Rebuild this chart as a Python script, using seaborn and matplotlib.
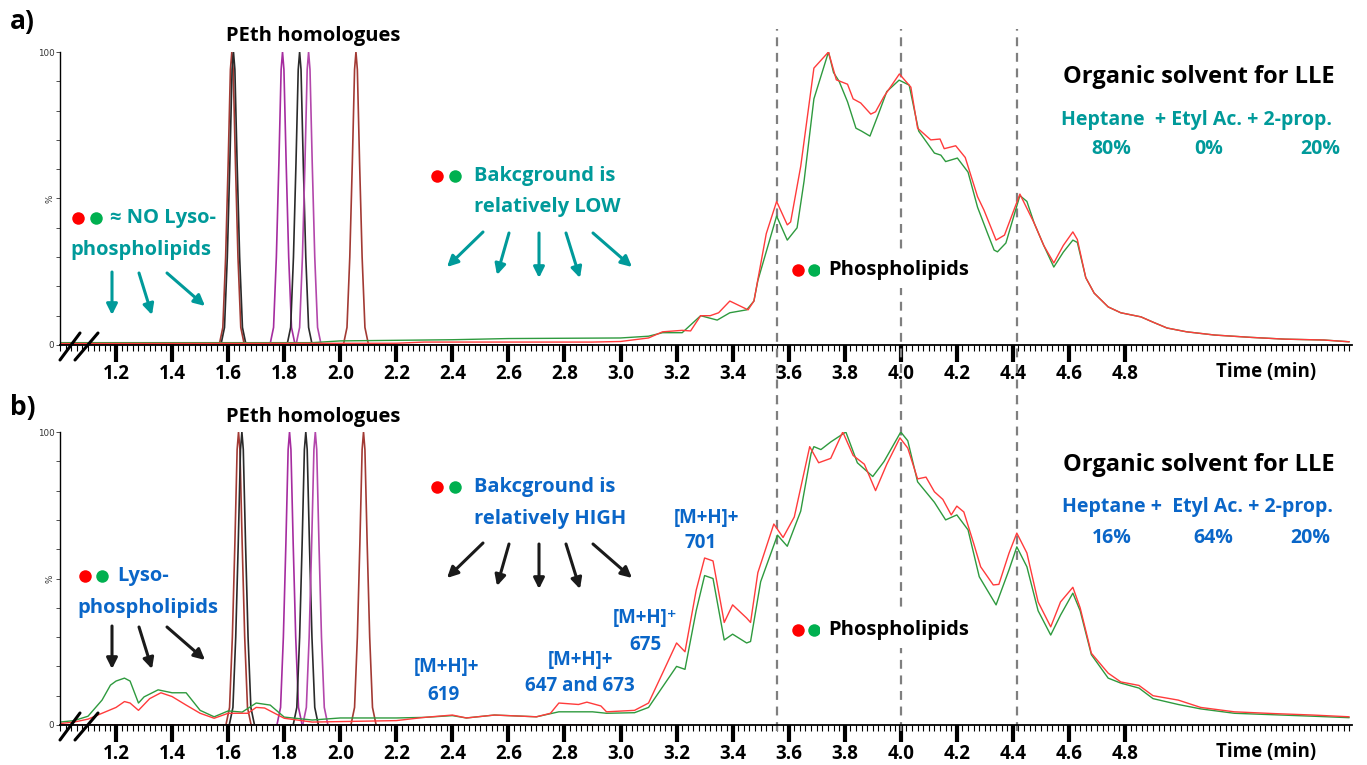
import matplotlib
matplotlib.use("Agg")
import matplotlib.pyplot as plt
import seaborn as sns
import pandas as pd
from matplotlib.lines import Line2D
from matplotlib.patches import FancyArrowPatch
from matplotlib.ticker import FixedLocator, MultipleLocator

# ---------------- data ----------------
a_green_t = [1.00, 1.90, 2.00, 2.20, 2.40, 2.60, 3.00, 3.10, 3.15, 3.22, 3.286, 3.345, 3.39, 3.45, 3.476,
             3.49, 3.557, 3.595, 3.63, 3.655, 3.69, 3.742, 3.76, 3.78, 3.81, 3.84, 3.86, 3.89, 3.917, 3.95,
             3.994, 4.03, 4.064, 4.12, 4.143, 4.16, 4.202, 4.24, 4.274, 4.31, 4.333, 4.345, 4.375, 4.425,
             4.45, 4.476, 4.51, 4.546, 4.58, 4.614, 4.63, 4.66, 4.69, 4.74, 4.785, 4.857, 4.90, 4.95, 5.02,
             5.12, 5.25, 5.37, 5.51, 5.60]
a_green_y = [0.8, 0.8, 1.4, 1.6, 1.8, 2.2, 2.4, 3.0, 4.2, 4.2, 10.0, 8.5, 11.0, 12.0, 15.0,
             22.0, 44.0, 35.8, 40.0, 56.0, 84.0, 100.0, 93.0, 90.0, 83.0, 74.0, 73.0, 71.3, 78.0, 86.5,
             90.4, 88.7, 73.0, 65.5, 64.8, 62.6, 63.8, 59.0, 47.0, 38.0, 32.4, 31.8, 34.8, 51.0,
             49.0, 41.6, 34.0, 26.6, 31.7, 35.8, 35.0, 23.0, 17.7, 13.0, 11.0, 9.6, 7.8, 5.8, 4.5,
             3.4, 2.6, 2.0, 1.7, 1.1]

a_red_t = [1.00, 2.20, 2.30, 2.60, 2.90, 3.00, 3.10, 3.15, 3.22, 3.25, 3.286, 3.32, 3.35, 3.39, 3.455,
           3.476, 3.52, 3.557, 3.595, 3.607, 3.643, 3.69, 3.742, 3.77, 3.81, 3.83, 3.857, 3.893, 3.91,
           3.94, 3.995, 4.036, 4.06, 4.107, 4.14, 4.155, 4.196, 4.23, 4.274, 4.297, 4.34, 4.37, 4.425,
           4.476, 4.51, 4.546, 4.58, 4.614, 4.63, 4.66, 4.69, 4.74, 4.785, 4.857, 4.90, 4.95, 5.02,
           5.12, 5.25, 5.37, 5.51, 5.60]
a_red_y = [0.5, 0.6, 1.0, 1.0, 1.0, 1.2, 2.4, 4.5, 5.0, 4.8, 10.0, 10.0, 11.0, 15.0, 12.0,
           15.0, 38.0, 49.0, 41.0, 42.0, 61.0, 94.5, 100.0, 90.5, 89.0, 84.0, 82.6, 78.8, 79.6,
           84.8, 92.5, 88.0, 74.0, 70.0, 70.3, 67.0, 68.0, 64.0, 50.6, 46.0, 35.8, 37.5, 51.5,
           41.6, 34.0, 28.0, 34.0, 38.6, 36.0, 23.0, 17.7, 13.0, 11.0, 9.6, 7.8, 5.8, 4.5,
           3.4, 2.6, 2.0, 1.7, 1.1]

b_green_t = [1.00, 1.05, 1.10, 1.15, 1.18, 1.20, 1.23, 1.25, 1.28, 1.30, 1.35, 1.40, 1.45, 1.50, 1.55,
             1.60, 1.65, 1.70, 1.75, 1.80, 1.90, 2.00, 2.20, 2.30, 2.40, 2.45, 2.55, 2.70, 2.78, 2.90,
             2.95, 3.05, 3.10, 3.15, 3.20, 3.23, 3.27, 3.30, 3.33, 3.37, 3.40, 3.45, 3.464, 3.50, 3.56,
             3.595, 3.643, 3.68, 3.69, 3.715, 3.75, 3.804, 3.845, 3.90, 3.94, 4.00, 4.025, 4.06, 4.12,
             4.16, 4.20, 4.24, 4.28, 4.34, 4.386, 4.414, 4.45, 4.49, 4.535, 4.57, 4.614, 4.64, 4.68,
             4.74, 4.785, 4.85, 4.90, 4.99, 5.07, 5.19, 5.47, 5.60]
b_green_y = [1.0, 1.5, 3.0, 8.5, 13.6, 15.0, 16.0, 15.0, 7.5, 9.6, 12.0, 11.0, 11.0, 5.0, 2.8,
             4.8, 4.4, 7.5, 6.8, 2.7, 1.7, 2.4, 2.4, 2.6, 3.2, 2.4, 3.4, 2.8, 4.5, 4.5,
             4.0, 4.2, 6.0, 13.0, 20.0, 19.0, 39.0, 51.0, 50.0, 29.0, 31.0, 28.0, 28.5, 48.9, 64.8,
             61.0, 73.0, 92.7, 95.0, 94.0, 96.6, 100.0, 89.5, 84.8, 89.9, 100.0, 97.0, 83.0, 76.0,
             70.0, 71.7, 66.6, 50.6, 41.0, 52.9, 60.8, 54.0, 39.0, 30.7, 37.5, 45.0, 39.0, 24.0,
             16.0, 14.3, 12.6, 9.0, 7.0, 5.5, 4.0, 3.0, 2.5]

b_red_t = [1.00, 1.05, 1.10, 1.15, 1.20, 1.23, 1.25, 1.28, 1.32, 1.36, 1.40, 1.45, 1.50, 1.55, 1.60,
           1.67, 1.70, 1.73, 1.80, 1.90, 2.20, 2.30, 2.40, 2.45, 2.55, 2.70, 2.75, 2.78, 2.85, 2.88,
           2.93, 2.95, 3.05, 3.10, 3.15, 3.20, 3.23, 3.27, 3.30, 3.33, 3.37, 3.40, 3.45, 3.464, 3.49,
           3.547, 3.58, 3.62, 3.643, 3.675, 3.707, 3.75, 3.793, 3.83, 3.87, 3.91, 3.95, 3.997, 4.025,
           4.06, 4.09, 4.12, 4.15, 4.18, 4.20, 4.225, 4.26, 4.285, 4.33, 4.35, 4.386, 4.414, 4.45,
           4.49, 4.535, 4.57, 4.614, 4.64, 4.68, 4.74, 4.785, 4.85, 4.90, 4.99, 5.07, 5.19, 5.33,
           5.47, 5.60]
b_red_y = [0.5, 1.0, 2.0, 4.0, 6.0, 8.0, 7.5, 5.0, 9.0, 11.0, 9.7, 6.8, 4.0, 2.3, 4.0,
           4.0, 6.0, 5.8, 2.3, 1.0, 1.5, 2.6, 3.4, 2.4, 3.4, 2.8, 4.0, 7.5, 7.0, 7.8,
           6.5, 4.5, 5.0, 7.5, 17.7, 28.0, 25.0, 46.0, 57.0, 56.0, 35.0, 41.0, 36.5, 35.0, 52.0,
           68.6, 64.0, 71.0, 81.0, 95.0, 89.5, 91.0, 100.0, 92.0, 89.0, 80.0, 89.0, 98.0, 94.5,
           84.0, 84.6, 79.6, 77.0, 71.7, 74.7, 72.7, 62.0, 54.0, 47.8, 48.0, 58.6, 65.5, 58.7,
           42.0, 33.5, 42.0, 47.0, 40.0, 24.5, 17.7, 14.7, 13.5, 10.0, 8.5, 6.0, 4.5, 3.9,
           3.4, 2.8]

# PEth homologue peaks (retention times, colours) and the peak profile
peth_a_times = [1.613, 1.619, 1.794, 1.855, 1.887, 2.056]
peth_b_times = [1.637, 1.649, 1.819, 1.877, 1.911, 2.083]
peth_colors = ["#a23a34", "#2a2a2a", "#a52c9f", "#2a2a2a", "#b347ab", "#a23a34"]
peak_offsets = [-0.045, -0.032, -0.022, -0.013, -0.005, 0.0, 0.005, 0.013, 0.022, 0.032, 0.045]
peak_shape = [0, 6, 30, 62, 94, 100, 94, 62, 30, 6, 0]
peth_span = [1.0, 2.9]

major_ticks = [1.2, 1.4, 1.6, 1.8, 2.0, 2.2, 2.4, 2.6, 2.8, 3.0, 3.2, 3.4, 3.6, 3.8, 4.0, 4.2, 4.4, 4.6, 4.8]
tick_labels = ["1.2", "1.4", "1.6", "1.8", "2.0", "2.2", "2.4", "2.6", "2.8", "3.0", "3.2", "3.4",
               "3.6", "3.8", "4.0", "4.2", "4.4", "4.6", "4.8"]
marker_times = [3.557, 4.0, 4.414]

# ---------------- styling ----------------
sns.set_theme(style="white")
plt.rcParams["font.family"] = ["Open Sans", "DejaVu Sans"]
plt.rcParams["font.weight"] = "bold"

W, H = 1367, 765
TEAL = "#009a9a"
BLUE = "#0a66c8"
RED = "#ff3b3b"
GREEN = "#2e9a3e"
DOT_RED = "#ff0000"
DOT_GREEN = "#00b050"
DARK = "#1a1a1a"

fig = plt.figure(figsize=(W / 100, H / 100), dpi=100)
fig.patch.set_facecolor("white")


def fx(x):
    return x / W


def fy(y):
    return 1 - y / H


ax_a = fig.add_axes([fx(60), fy(345), 1292 / W, 293 / H])
ax_b = fig.add_axes([fx(60), fy(725), 1292 / W, 293 / H])


def draw_panel(ax, gt, gy, rt, ry, peth_times):
    for c, col in zip(peth_times, peth_colors):
        t = [peth_span[0]] + [c + o for o in peak_offsets] + [peth_span[1]]
        y = [0] + peak_shape + [0]
        sns.lineplot(x=t, y=y, ax=ax, color=col, lw=1.2, estimator=None, sort=False, legend=False)
    sns.lineplot(data=pd.DataFrame({"t": gt, "y": gy}), x="t", y="y", ax=ax, color=GREEN, lw=1.0,
                 estimator=None, sort=False, legend=False)
    sns.lineplot(data=pd.DataFrame({"t": rt, "y": ry}), x="t", y="y", ax=ax, color=RED, lw=1.0,
                 estimator=None, sort=False, legend=False)
    ax.set_xlim(1.0, 5.61)
    ax.set_ylim(0, 100)
    ax.set_xlabel("")
    ax.set_ylabel("")
    ax.grid(False)
    ax.set_facecolor("none")
    for s in ["top", "right"]:
        ax.spines[s].set_visible(False)
    ax.spines["bottom"].set_linewidth(1.3)
    ax.spines["bottom"].set_color("black")
    ax.spines["left"].set_linewidth(1.0)
    ax.spines["left"].set_color("black")
    ax.xaxis.set_major_locator(FixedLocator(major_ticks))
    ax.set_xticklabels(tick_labels, fontsize=13.5, fontweight="bold")
    ax.xaxis.set_minor_locator(MultipleLocator(0.02))
    ax.tick_params(axis="x", which="major", direction="out", length=12, width=3, pad=2,
                   colors="black", bottom=True)
    ax.tick_params(axis="x", which="minor", direction="out", length=4, width=0.8,
                   colors="black", bottom=True)
    ax.set_yticks([0, 50, 100])
    ax.set_yticklabels(["0", "%", "100"], fontsize=6.3, color="#333333", fontweight="normal",
                       family="DejaVu Sans")
    ax.get_yticklabels()[1].set_rotation(90)
    ax.yaxis.set_minor_locator(MultipleLocator(10))
    ax.tick_params(axis="y", which="both", direction="out", length=3, width=0.6, left=True, pad=1,
                   colors="#333333")


draw_panel(ax_a, a_green_t, a_green_y, a_red_t, a_red_y, peth_a_times)
draw_panel(ax_b, b_green_t, b_green_y, b_red_t, b_red_y, peth_b_times)

for t in marker_times:
    ax_a.axvline(t, ymin=-0.2, ymax=1.08, clip_on=False, color="#7f7f7f", lw=1.6, ls=(0, (4, 3)), zorder=1)
    ax_b.axvline(t, ymin=-0.02, ymax=1.1, clip_on=False, color="#7f7f7f", lw=1.6, ls=(0, (4, 3)), zorder=1)


# ---------------- annotations ----------------
def txt(x, y, s, size=14.5, color="black", ha="center", bg=False, **kw):
    t = fig.text(fx(x), fy(y), s, fontsize=size, color=color, ha=ha, va="center",
                 fontweight="bold", **kw)
    if bg:
        t.set_bbox(dict(facecolor="white", edgecolor="none", pad=6))
    return t


def dots(x1, x2, y):
    fig.add_artist(Line2D([fx(x1)], [fy(y)], marker="o", ms=9, color=DOT_RED, mec="none",
                          transform=fig.transFigure))
    fig.add_artist(Line2D([fx(x2)], [fy(y)], marker="o", ms=9, color=DOT_GREEN, mec="none",
                          transform=fig.transFigure))


def arrow(x1, y1, x2, y2, color):
    fig.add_artist(FancyArrowPatch((fx(x1), fy(y1)), (fx(x2), fy(y2)), transform=fig.transFigure,
                                   arrowstyle="-|>", mutation_scale=16, lw=2.2, color=color,
                                   shrinkA=0, shrinkB=0))


def axis_break(dy):
    for (x1, y1, x2, y2) in [(60, 360, 80, 333), (75, 360, 98, 333)]:
        fig.add_artist(Line2D([fx(x1), fx(x2)], [fy(y1 + dy), fy(y2 + dy)], color="black", lw=2.2,
                              transform=fig.transFigure))


bg_arrows = [(483, 232, 447, 267), (509, 233, 497, 275), (539, 233, 539, 278),
             (566, 233, 580, 278), (593, 233, 632, 267)]
lyso_arrows = [(112, 272, 112, 315), (139, 273, 152, 315), (167, 273, 205, 306)]

# ---- panel a ----
txt(10, 22, "a)", size=19, ha="left")
txt(313, 36, "PEth homologues", size=14.5)
txt(1199, 77, "Organic solvent for LLE", size=17)
txt(1266, 372, "Time (min)", size=13.5)
axis_break(0)
dots(437, 455, 176)
txt(474, 176, "Bakcground is", color=TEAL, ha="left")
txt(474, 207, "relatively LOW", color=TEAL, ha="left")
for (x1, y1, x2, y2) in bg_arrows:
    arrow(x1, y1, x2, y2, TEAL)
dots(798, 814, 270)
txt(828, 270, "Phospholipids", ha="left", bg=True)
dots(78, 96, 218)
txt(110, 218, "\u2248 NO Lyso-", color=TEAL, ha="left")
txt(70, 250, "phospholipids", color=TEAL, ha="left")
for (x1, y1, x2, y2) in lyso_arrows:
    arrow(x1, y1, x2, y2, TEAL)
txt(1061, 120, "Heptane  + Etyl Ac. + 2-prop.", size=14, color=TEAL, ha="left")
txt(1111, 149, "80%", size=14, color=TEAL)
txt(1209, 149, "0%", size=14, color=TEAL)
txt(1320, 149, "20%", size=14, color=TEAL)

# ---- panel b ----
txt(10, 408, "b)", size=19, ha="left")
txt(313, 417, "PEth homologues", size=14.5)
txt(1199, 465, "Organic solvent for LLE", size=17)
txt(1266, 752, "Time (min)", size=13.5)
axis_break(380)
dots(437, 455, 487)
txt(474, 487, "Bakcground is", color=BLUE, ha="left")
txt(474, 519, "relatively HIGH", color=BLUE, ha="left")
for (x1, y1, x2, y2) in bg_arrows:
    arrow(x1, y1 + 311, x2, y2 + 311, DARK)
dots(798, 814, 630)
txt(828, 630, "Phospholipids", ha="left", bg=True)
dots(85, 102, 576)
txt(117, 576, "Lyso-", color=BLUE, ha="left")
txt(77, 608, "phospholipids", color=BLUE, ha="left")
for (x1, y1, x2, y2) in lyso_arrows:
    arrow(x1, y1 + 354, x2, y2 + 354, DARK)
txt(1062, 507, "Heptane +  Etyl Ac. + 2-prop.", size=14, color=BLUE, ha="left")
txt(1112, 538, "16%", size=14, color=BLUE)
txt(1213, 538, "64%", size=14, color=BLUE)
txt(1310, 538, "20%", size=14, color=BLUE)

txt(446, 667, "[M+H]+", size=13.5, color=BLUE)
txt(443, 695, "619", size=13.5, color=BLUE)
txt(580, 660, "[M+H]+", size=13.5, color=BLUE)
txt(580, 686, "647 and 673", size=13.5, color=BLUE)
txt(645, 618, "[M+H]\u207a", size=13.5, color=BLUE)
txt(646, 645, "675", size=13.5, color=BLUE)
txt(706, 518, "[M+H]+", size=13.5, color=BLUE)
txt(701, 543, "701", size=13.5, color=BLUE)

fig.savefig("out.png", dpi=100, facecolor="white")
